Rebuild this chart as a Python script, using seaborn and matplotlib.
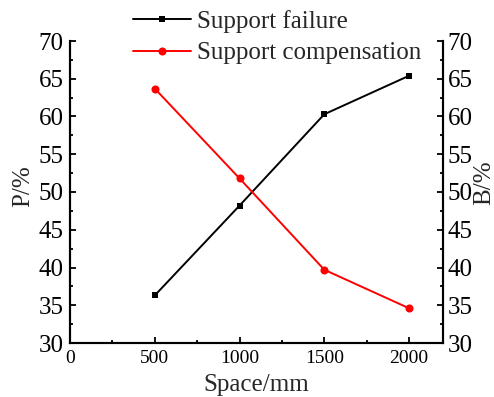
import matplotlib
matplotlib.use("Agg")
import matplotlib.pyplot as plt
import seaborn as sns
import pandas as pd
from matplotlib.ticker import MultipleLocator

# Data
space = [500, 1000, 1500, 2000]
failure = [36.3, 48.2, 60.3, 65.4]
compensation = [63.7, 51.8, 39.7, 34.6]
x_ticks = [0, 500, 1000, 1500, 2000]
y_ticks = [30, 35, 40, 45, 50, 55, 60, 65, 70]

df = pd.DataFrame({"Space": space, "failure": failure, "compensation": compensation})

sns.set_theme(style="ticks")
plt.rcParams["font.family"] = ["Liberation Serif", "DejaVu Serif"]
plt.rcParams["font.size"] = 18

W, H = 494, 397
fig = plt.figure(figsize=(W / 100, H / 100), dpi=100)
ax = fig.add_axes([70 / W, (H - 343) / H, (443 - 70) / W, (343 - 41) / H])
ax2 = ax.twinx()

sns.lineplot(data=df, x="Space", y="failure", ax=ax, color="black", marker="s",
             markersize=5, markeredgewidth=0, linewidth=1.4, label="Support failure",
             legend=False)
sns.lineplot(data=df, x="Space", y="compensation", ax=ax2, color="red", marker="o",
             markersize=5.8, markeredgewidth=0, linewidth=1.4, label="Support compensation",
             legend=False)

for a in (ax, ax2):
    a.set_ylim(30, 70)
    a.set_yticks(y_ticks)
    a.yaxis.set_minor_locator(MultipleLocator(2.5))
    a.spines["top"].set_visible(False)
    for s in a.spines.values():
        s.set_linewidth(1.5)
        s.set_color("black")
    a.tick_params(which="major", direction="in", length=4.5, width=1.3, labelsize=18,
                  pad=4.5, colors="black")
    a.tick_params(which="minor", direction="in", length=2.5, width=1.3, colors="black")
ax2.tick_params(axis="y", which="major", pad=3.5)

ax.set_xlim(0, 2200)
ax.set_xticks(x_ticks)
ax.xaxis.set_minor_locator(MultipleLocator(250))
ax.tick_params(axis="x", labelsize=14, pad=5)
ax.set_xlabel("Space/mm", fontsize=18)
ax.set_ylabel("P/%", fontsize=18)
ax2.set_ylabel("B/%", fontsize=18)
ax.xaxis.set_label_coords(0.499, -0.103)
ax.yaxis.set_label_coords(-0.097, 0.52)
ax2.yaxis.set_label_coords(1.08, 0.53)
ax.grid(False)
ax2.grid(False)

h1, l1 = ax.get_legend_handles_labels()
h2, l2 = ax2.get_legend_handles_labels()
fig.legend(h1 + h2, l1 + l2, loc="upper left", bbox_to_anchor=(133 / W, 1 - 10 / H),
           frameon=False, fontsize=18, handlelength=2.32, handletextpad=0.24,
           labelspacing=0.36, borderpad=0, borderaxespad=0, markerscale=1)

fig.savefig("out.png", dpi=100)
